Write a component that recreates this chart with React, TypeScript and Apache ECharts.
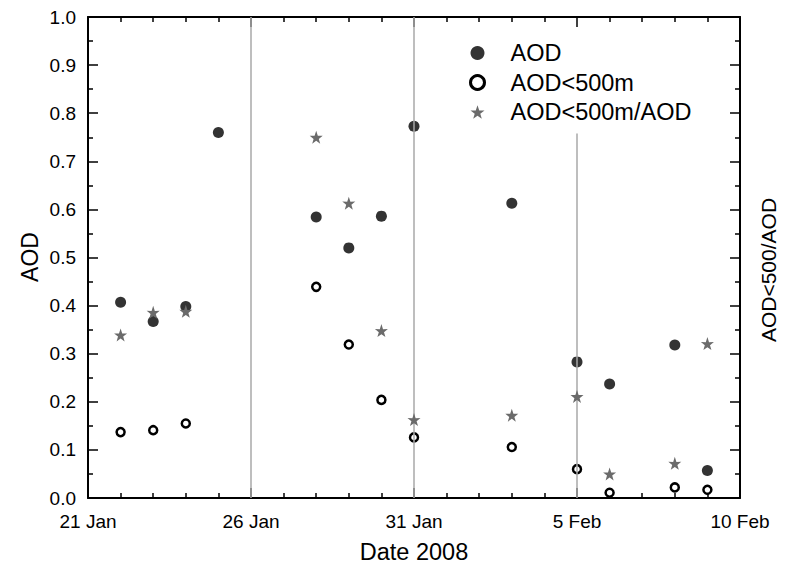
import React, { useEffect, useRef } from "react";
import * as echarts from "echarts";

const dates = ["2008-01-22", "2008-01-23", "2008-01-24", "2008-01-25", "2008-01-28", "2008-01-29", "2008-01-30", "2008-01-31", "2008-02-03", "2008-02-05", "2008-02-06", "2008-02-08", "2008-02-09"];
const aod = [0.407, 0.367, 0.398, 0.760, 0.584, 0.520, 0.586, 0.773, 0.613, 0.283, 0.237, 0.318, 0.057];
const aod500 = [0.137, 0.141, 0.155, null, 0.439, 0.319, 0.204, 0.126, 0.106, 0.060, 0.011, 0.022, 0.017];
const ratio = [0.339, 0.386, 0.388, null, 0.750, 0.613, 0.348, 0.163, 0.172, 0.211, 0.050, 0.072, 0.321];
const xTickLabels = ["21 Jan", "26 Jan", "31 Jan", "5 Feb", "10 Feb"];
const refLineDates = ["2008-01-26", "2008-01-31", "2008-02-05"];
const refLineTops = [1.0, 1.0, 0.758];
const seriesNames = ["AOD", "AOD<500m", "AOD<500m/AOD"];

const START = Date.UTC(2008, 0, 21);
const dayOffset = (d: string) => {
  const [y, m, dd] = d.split("-").map(Number);
  return Math.round((Date.UTC(y, m - 1, dd) - START) / 86400000);
};

const STAR = "path://M50 0 L61.8 35.1 L97.6 34.5 L69 56.7 L79.4 90.5 L50 70 L20.6 90.5 L31 56.7 L2.4 34.5 L38.2 35.1 Z";
const FONT = "Liberation Sans, Arial, sans-serif";

const GRID = { left: 88, right: 51, top: 17, bottom: 71 };
const W = 791;
const H = 569;

const pairs = (vals: (number | null)[]) =>
  dates.map((d, i) => (vals[i] == null ? null : [dayOffset(d), vals[i]])).filter((p) => p !== null);

export default function App() {
  const ref = useRef<HTMLDivElement>(null);
  useEffect(() => {
    document.body.style.margin = "0";
    if (!ref.current) return;
    const chart = echarts.init(ref.current, null, { renderer: "svg" });
    const tickStyle = { color: "#000", width: 1.5 };
    const axisLine = { show: true, onZero: false, lineStyle: { color: "#000", width: 2 } };
    const xBase = {
      type: "value",
      min: 0,
      max: 20,
      interval: 5,
      splitLine: { show: false },
      minorSplitLine: { show: false },
      axisLine,
      axisTick: { show: true, inside: true, length: 10, lineStyle: tickStyle },
      minorTick: { show: true, splitNumber: 5, length: 5, lineStyle: tickStyle },
    };
    const yBase = {
      type: "value",
      min: 0,
      max: 1,
      interval: 0.1,
      splitLine: { show: false },
      minorSplitLine: { show: false },
      axisLine,
      axisTick: { show: true, inside: true, length: 10, lineStyle: tickStyle },
      minorTick: { show: true, splitNumber: 2, length: 5, lineStyle: tickStyle },
    };
    chart.setOption({
      animation: false,
      backgroundColor: "#fff",
      textStyle: { fontFamily: FONT },
      grid: GRID,
      legend: {
        orient: "vertical",
        left: 464,
        top: 36,
        itemWidth: 14,
        itemHeight: 14,
        itemGap: 5.5,
        data: [
          { name: seriesNames[0] },
          { name: seriesNames[1], itemStyle: { color: "#fff", borderColor: "#000", borderWidth: 3 } },
          { name: seriesNames[2] },
        ],
        textStyle: { fontSize: 23.5, color: "#000", fontFamily: FONT, padding: [0, 0, 0, 21] },
      },
      xAxis: [
        {
          ...xBase,
          position: "bottom",
          axisLabel: {
            show: true,
            margin: 14,
            fontSize: 19,
            color: "#000",
            fontFamily: FONT,
            formatter: (v: number) => xTickLabels[Math.round(v / 5)] ?? "",
          },
        },
        { ...xBase, position: "top", axisLabel: { show: false } },
      ],
      yAxis: [
        {
          ...yBase,
          position: "left",
          axisLabel: {
            show: true,
            margin: 12,
            fontSize: 19,
            color: "#000",
            fontFamily: FONT,
            formatter: (v: number) => v.toFixed(1),
          },
        },
        { ...yBase, position: "right", axisLabel: { show: false } },
      ],
      series: [
        {
          name: "refLines",
          type: "line",
          data: [],
          z: 1,
          silent: true,
          markLine: {
            symbol: "none",
            silent: true,
            label: { show: false },
            lineStyle: { color: "#a8a8a8", width: 1.5, type: "solid" },
            data: refLineDates.map((d, i) => [
              { coord: [dayOffset(d), 0] },
              { coord: [dayOffset(d), refLineTops[i]] },
            ]),
          },
        },
        {
          name: seriesNames[0],
          type: "scatter",
          symbol: "circle",
          symbolSize: 11,
          itemStyle: { color: "#333333", opacity: 1 },
          data: pairs(aod),
          z: 3,
        },
        {
          name: seriesNames[1],
          type: "scatter",
          symbol: "circle",
          symbolSize: 8,
          itemStyle: { color: "#ffffff", borderColor: "#000", borderWidth: 2.5, opacity: 1 },
          data: pairs(aod500),
          z: 4,
        },
        {
          name: seriesNames[2],
          type: "scatter",
          symbol: STAR,
          symbolSize: 13,
          itemStyle: { color: "#6b6b6b", opacity: 1 },
          data: pairs(ratio),
          z: 5,
        },
      ],
      graphic: [
        {
          type: "text",
          x: 30,
          y: 257,
          rotation: Math.PI / 2,
          style: { text: "AOD", fontSize: 23, fill: "#000", fontFamily: FONT, align: "center", verticalAlign: "middle" },
        },
        {
          type: "text",
          x: 768,
          y: 270,
          rotation: Math.PI / 2,
          style: { text: "AOD<500/AOD", fontSize: 21, fill: "#000", fontFamily: FONT, align: "center", verticalAlign: "middle" },
        },
        {
          type: "text",
          x: 414,
          y: 552,
          style: { text: "Date 2008", fontSize: 23.5, fill: "#000", fontFamily: FONT, align: "center", verticalAlign: "middle" },
        },
      ],
    });
    return () => chart.dispose();
  }, []);
  return <div ref={ref} style={{ width: W, height: H }} />;
}
